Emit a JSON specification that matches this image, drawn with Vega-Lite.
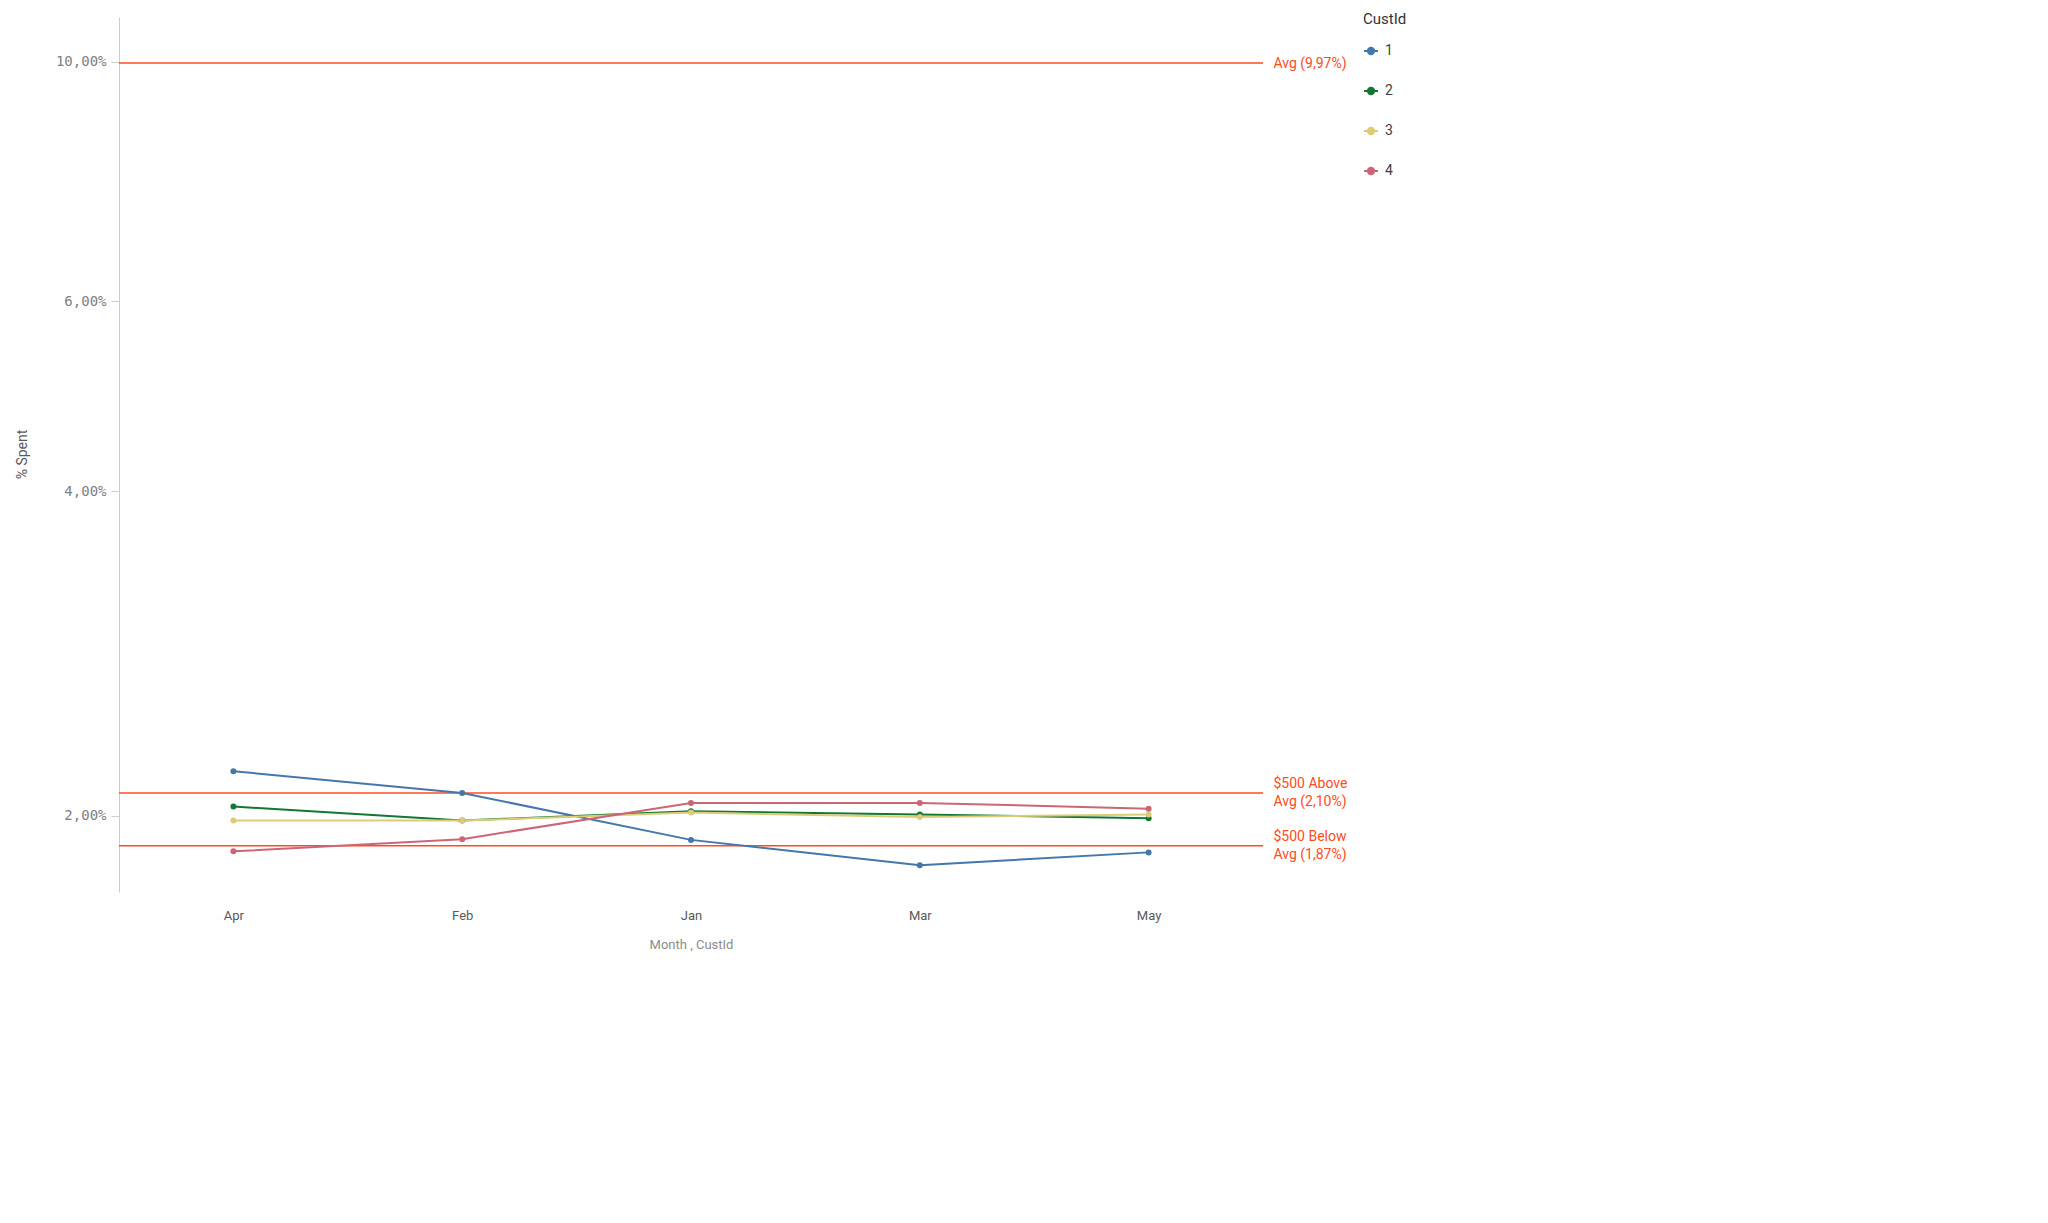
{
  "$schema": "https://vega.github.io/schema/vega-lite/v6.json",
  "autosize": "none",
  "width": 1144,
  "height": 875,
  "padding": {"left": 119, "top": 17, "right": 785, "bottom": 331},
  "background": "white",
  "config": {
    "view": {"stroke": null},
    "axis": {"grid": false}
  },
  "datasets": {
    "spent": [
      {"Month": "Apr", "CustId": "1", "pct": 2.20},
      {"Month": "Feb", "CustId": "1", "pct": 2.10},
      {"Month": "Jan", "CustId": "1", "pct": 1.90},
      {"Month": "Mar", "CustId": "1", "pct": 1.80},
      {"Month": "May", "CustId": "1", "pct": 1.85},
      {"Month": "Apr", "CustId": "2", "pct": 2.04},
      {"Month": "Feb", "CustId": "2", "pct": 1.98},
      {"Month": "Jan", "CustId": "2", "pct": 2.02},
      {"Month": "Mar", "CustId": "2", "pct": 2.006},
      {"Month": "May", "CustId": "2", "pct": 1.99},
      {"Month": "Apr", "CustId": "3", "pct": 1.98},
      {"Month": "Feb", "CustId": "3", "pct": 1.98},
      {"Month": "Jan", "CustId": "3", "pct": 2.014},
      {"Month": "Mar", "CustId": "3", "pct": 1.995},
      {"Month": "May", "CustId": "3", "pct": 2.006},
      {"Month": "Apr", "CustId": "4", "pct": 1.854},
      {"Month": "Feb", "CustId": "4", "pct": 1.903},
      {"Month": "Jan", "CustId": "4", "pct": 2.056},
      {"Month": "Mar", "CustId": "4", "pct": 2.056},
      {"Month": "May", "CustId": "4", "pct": 2.031}
    ],
    "refs": [
      {"ref": 9.97, "name": "Avg"},
      {"ref": 2.10, "name": "$500 Above Avg"},
      {"ref": 1.876, "name": "$500 Below Avg"}
    ]
  },
  "layer": [
    {
      "data": {"name": "refs"},
      "mark": {"type": "rule", "color": "#ff4b22", "strokeWidth": 1.5},
      "encoding": {
        "y": {
          "field": "ref",
          "type": "quantitative",
          "scale": {"type": "log", "domain": [1.7, 11.0], "nice": false, "zero": false},
          "axis": {
            "orient": "right",
            "values": [1.876, 2.1, 9.97],
            "domain": false,
            "ticks": false,
            "title": null,
            "labelPadding": 10,
            "labelAlign": "left",
            "labelBaseline": "middle",
            "labelOverlap": false,
            "labelBound": false,
            "labelFlush": false,
            "labelFont": "Roboto",
            "labelFontSize": 14,
            "labelLineHeight": 18,
            "labelColor": "#ff4b22",
            "labelOffset": {"condition": {"test": "datum.value < 5", "value": -9}, "value": 0},
            "labelExpr": "datum.value > 5 ? 'Avg (9,97%)' : (datum.value > 2 ? ['$500 Above', 'Avg (2,10%)'] : ['$500 Below', 'Avg (1,87%)'])"
          }
        }
      }
    },
    {
      "data": {"name": "spent"},
      "mark": {"type": "line", "strokeWidth": 2, "point": {"filled": true, "size": 36}},
      "encoding": {
        "x": {
          "field": "Month",
          "type": "nominal",
          "sort": ["Apr", "Feb", "Jan", "Mar", "May"],
          "scale": {"type": "point", "padding": 0.5},
          "axis": {
            "domain": false,
            "ticks": false,
            "labelAngle": 0,
            "labelPadding": 17,
            "labelFont": "Roboto",
            "labelFontSize": 13,
            "labelColor": "#595959",
            "title": "Month , CustId",
            "titleFont": "Roboto",
            "titleFontSize": 13,
            "titleFontWeight": "normal",
            "titleColor": "#8c8c8c",
            "titlePadding": 16
          }
        },
        "y": {
          "field": "pct",
          "type": "quantitative",
          "scale": {"type": "log", "domain": [1.7, 11.0], "nice": false, "zero": false},
          "axis": {
            "orient": "left",
            "values": [2, 4, 6, 10],
            "domainColor": "#cccccc",
            "tickColor": "#cccccc",
            "tickSize": 8,
            "labelPadding": 5,
            "labelFont": "DejaVu Sans Mono",
            "labelFontSize": 14,
            "labelColor": "#808080",
            "labelExpr": "replace(format(datum.value, '.2f'), '.', ',') + '%'",
            "title": "% Spent",
            "titleFont": "Roboto",
            "titleFontSize": 14,
            "titleFontWeight": "normal",
            "titleColor": "#595959",
            "titleAngle": -90,
            "titleX": -97,
            "titleY": 437,
            "titleAlign": "center",
            "titleBaseline": "middle"
          }
        },
        "color": {
          "field": "CustId",
          "type": "nominal",
          "scale": {"domain": ["1", "2", "3", "4"], "range": ["#4477aa", "#117733", "#ddcc77", "#cc6677"]},
          "legend": {
            "orient": "none",
            "legendX": 1244,
            "legendY": -5,
            "title": "CustId",
            "titleFont": "Roboto",
            "titleFontSize": 15,
            "titleFontWeight": "normal",
            "titleColor": "#333333",
            "titlePadding": 16,
            "labelFont": "Roboto",
            "labelFontSize": 14,
            "labelColor": "#404040",
            "labelOffset": 6,
            "rowPadding": 24,
            "symbolType": "M-1,0H1M-0.45,0A0.45,0.45,0,1,0,0.45,0A0.45,0.45,0,1,0,-0.45,0Z",
            "symbolSize": 196,
            "symbolStrokeWidth": 2,
            "encode": {
              "symbols": {
                "update": {
                  "fill": {"scale": "color", "field": "value"},
                  "stroke": {"scale": "color", "field": "value"},
                  "opacity": {"value": 1}
                }
              }
            }
          }
        }
      }
    }
  ],
  "resolve": {"axis": {"y": "independent"}}
}
